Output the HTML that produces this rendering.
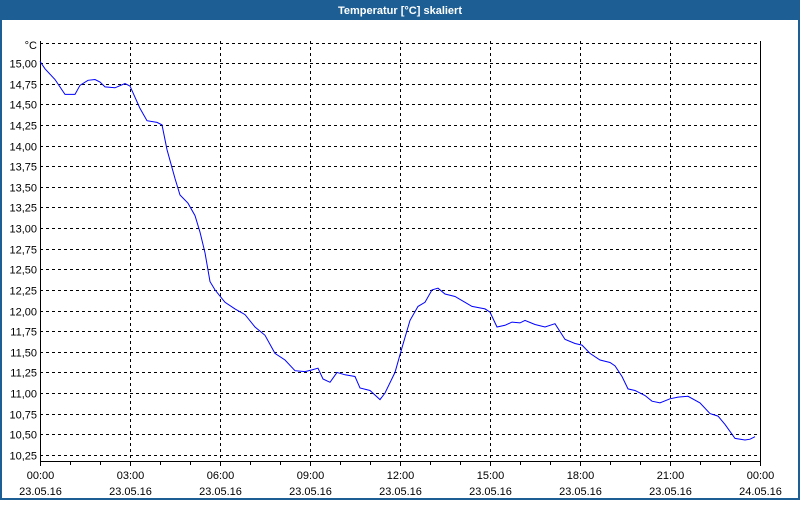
<!DOCTYPE html>
<html><head><meta charset="utf-8"><style>
body{margin:0;width:800px;height:500px;overflow:hidden;background:#fff;font-family:"Liberation Sans",sans-serif}
</style></head><body>
<svg width="800" height="500" xmlns="http://www.w3.org/2000/svg" font-family="Liberation Sans, sans-serif" font-size="11">
<rect x="0" y="0" width="800" height="500" fill="#fff"/>
<rect x="0" y="0" width="800" height="20" fill="#1d5f95"/>
<rect x="0" y="20" width="2" height="480" fill="#1d5f95"/>
<rect x="798" y="20" width="2" height="480" fill="#1d5f95"/>
<rect x="0" y="498" width="800" height="2" fill="#1d5f95"/>
<text x="400" y="14" fill="#fff" font-weight="bold" font-size="11" text-anchor="middle">Temperatur [°C] skaliert</text>
<g id="g" stroke="#000" stroke-dasharray="3,3" stroke-width="1"></g>
<line x1="40.5" y1="41" x2="40.5" y2="462" stroke="#000"/>
<line x1="760.5" y1="41" x2="760.5" y2="462" stroke="#000"/>
<line x1="40" y1="461.5" x2="761" y2="461.5" stroke="#000"/>
<g id="t" stroke="#000"></g>
<g id="lab" fill="#000"></g>
<polyline id="p" fill="none" stroke="#0000ff" stroke-width="1"/>
</svg>
<script>
var g=document.getElementById('g'),t=document.getElementById('t'),lab=document.getElementById('lab');
function el(n,a,p,txt){var e=document.createElementNS('http://www.w3.org/2000/svg',n);for(var k in a)e.setAttribute(k,a[k]);if(txt)e.textContent=txt;p.appendChild(e);}
function Y(v){return 63+(15-v)*82.5;}
el('line',{x1:40,y1:43.5,x2:760,y2:43.5},g);
el('text',{x:37,y:49,'text-anchor':'end'},lab,'°C');
for(var i=0;i<=19;i++){var v=15-i*0.25,y=Math.round(Y(v))+0.5;el('line',{x1:40,y1:y,x2:760,y2:y},g);
el('text',{x:37,y:y+4,'text-anchor':'end'},lab,v.toFixed(2).replace('.',','));}
var times=['00:00','03:00','06:00','09:00','12:00','15:00','18:00','21:00','00:00'];
for(var k=0;k<=8;k++){var x=40+90*k+0.5;if(k>0&&k<8)el('line',{x1:x,y1:41,x2:x,y2:461},g);
el('line',{x1:x,y1:461,x2:x,y2:466},t);
el('text',{x:x,y:479,'text-anchor':'middle'},lab,times[k]);
el('text',{x:x,y:495,'text-anchor':'middle'},lab,k==8?'24.05.16':'23.05.16');}
for(var m=0;m<24;m++){if(m%3){var x=40+30*m+0.5;el('line',{x1:x,y1:461,x2:x,y2:465},t);}}
var d=[[40,15.02],[45,14.93],[55,14.80],[65,14.62],[75,14.62],[80,14.73],[88,14.79],[95,14.80],[100,14.77],[105,14.71],[115,14.70],[125,14.75],[130,14.72],[140,14.45],[147,14.30],[157,14.28],[162,14.25],[167,13.95],[175,13.60],[180,13.40],[188,13.30],[195,13.15],[200,12.95],[205,12.70],[210,12.35],[215,12.25],[225,12.10],[235,12.02],[245,11.95],[255,11.80],[265,11.70],[275,11.48],[285,11.40],[295,11.27],[305,11.26],[312,11.28],[318,11.30],[323,11.17],[330,11.13],[337,11.25],[345,11.22],[355,11.20],[360,11.06],[370,11.03],[380,10.92],[385,11.00],[395,11.25],[402,11.55],[410,11.88],[418,12.05],[425,12.10],[432,12.25],[438,12.27],[445,12.20],[455,12.17],[465,12.10],[472,12.05],[485,12.02],[490,11.98],[497,11.80],[505,11.82],[512,11.86],[520,11.85],[525,11.88],[535,11.83],[545,11.80],[555,11.84],[565,11.65],[575,11.60],[582,11.58],[590,11.48],[600,11.40],[610,11.37],[615,11.33],[622,11.20],[628,11.05],[635,11.03],[645,10.97],[652,10.90],[660,10.88],[670,10.93],[678,10.95],[688,10.96],[700,10.88],[710,10.75],[718,10.72],[725,10.62],[735,10.45],[745,10.43],[750,10.44],[755,10.47]];
document.getElementById('p').setAttribute('points',d.map(function(a){return a[0]+','+Y(a[1]).toFixed(1)}).join(' '));
</script>
</body></html>
